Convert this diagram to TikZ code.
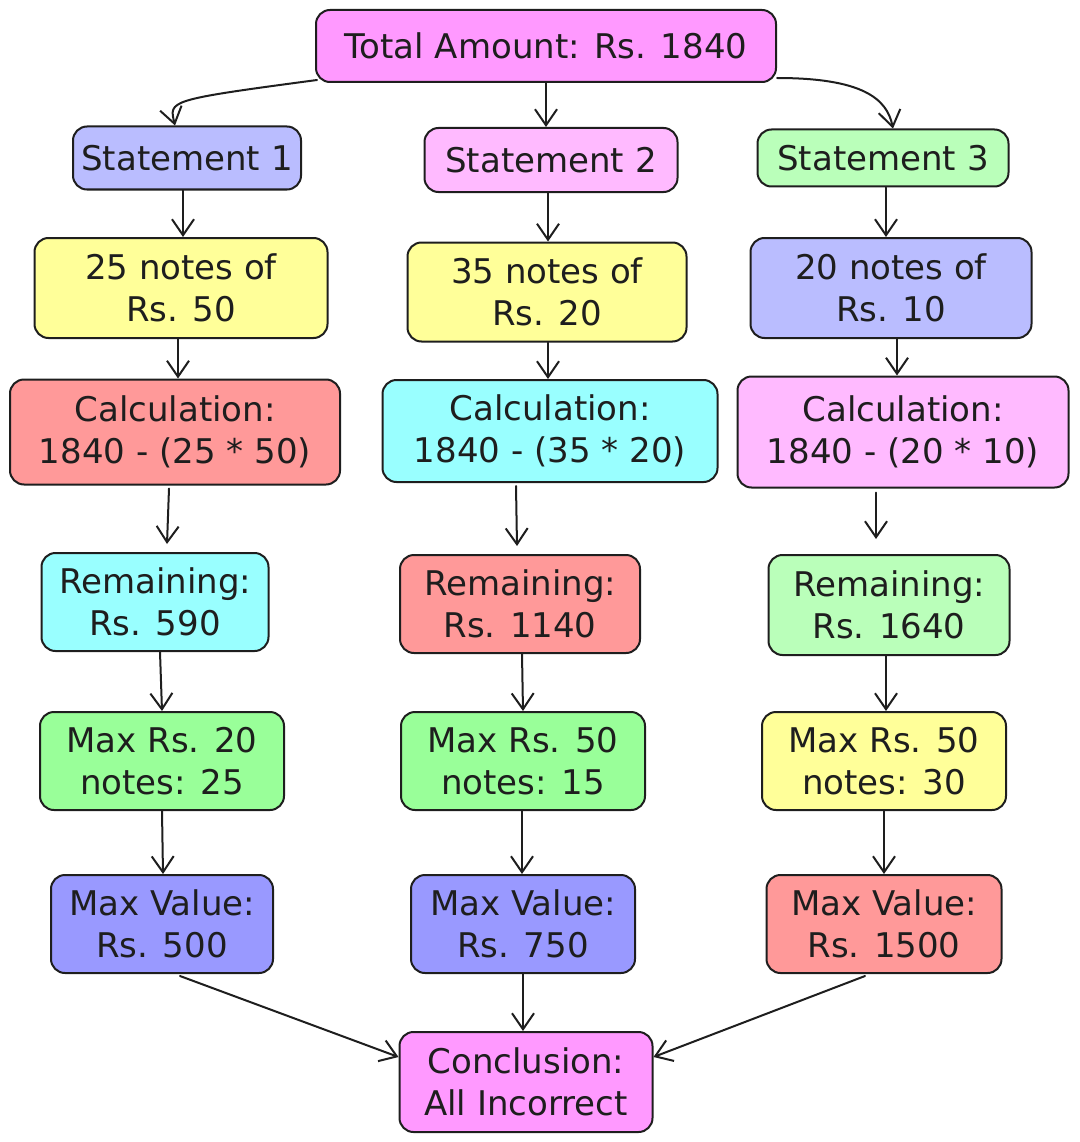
\documentclass[tikz,border=0pt]{standalone}
\usepackage{fontspec}
\setmainfont{DejaVu Sans}
\usetikzlibrary{arrows.meta}
\definecolor{ink}{HTML}{1E1E1E}
\definecolor{cpink}{RGB}{255,153,255}
\definecolor{clpink}{RGB}{255,186,255}
\definecolor{clav}{RGB}{186,189,255}
\definecolor{clgreen}{RGB}{186,255,186}
\definecolor{cyellow}{RGB}{255,255,153}
\definecolor{csalmon}{RGB}{255,153,153}
\definecolor{ccyan}{RGB}{153,255,255}
\definecolor{cgreen}{RGB}{153,255,153}
\definecolor{cblue}{RGB}{153,153,255}
\tikzset{
  box/.style={draw=ink, line width=2pt, rounded corners=14pt, align=center,
    inner sep=0pt, text=ink, font=\fontsize{34}{42}\selectfont},
  conn/.style={draw=ink, line width=2pt, line cap=round,
    -{Straight Barb[length=16pt,width=22pt,line width=2pt]}},
}
\begin{document}
\begin{tikzpicture}[x=1pt,y=-1pt]
\useasboundingbox (0,0) rectangle (1079,1142);
% top
\node[box, fill=cpink, minimum width=460pt, minimum height=72pt] (tot) at (546,46) {Total Amount: Rs. 1840};
% statements
\node[box, fill=clav, minimum width=228pt, minimum height=63pt] (s1) at (187,158) {Statement 1};
\node[box, fill=clpink, minimum width=253pt, minimum height=64pt] (s2) at (551,160) {Statement 2};
\node[box, fill=clgreen, minimum width=251pt, minimum height=57pt] (s3) at (883,158) {Statement 3};
% notes
\node[box, fill=cyellow, minimum width=293pt, minimum height=100pt] (n1) at (181,288) {25 notes of\\Rs. 50};
\node[box, fill=cyellow, minimum width=279pt, minimum height=99pt] (n2) at (547,292) {35 notes of\\Rs. 20};
\node[box, fill=clav, minimum width=281pt, minimum height=100pt] (n3) at (891,288) {20 notes of\\Rs. 10};
% calculations
\node[box, fill=csalmon, minimum width=330pt, minimum height=105pt] (c1) at (175,432) {Calculation:\\1840 - (25 * 50)};
\node[box, fill=ccyan, minimum width=335pt, minimum height=102pt] (c2) at (550,431) {Calculation:\\1840 - (35 * 20)};
\node[box, fill=clpink, minimum width=331pt, minimum height=111pt] (c3) at (903,432) {Calculation:\\1840 - (20 * 10)};
% remaining
\node[box, fill=ccyan, minimum width=227pt, minimum height=98pt] (r1) at (155,602) {Remaining:\\Rs. 590};
\node[box, fill=csalmon, minimum width=240pt, minimum height=98pt] (r2) at (520,604) {Remaining:\\Rs. 1140};
\node[box, fill=clgreen, minimum width=241pt, minimum height=100pt] (r3) at (889,605) {Remaining:\\Rs. 1640};
% max notes
\node[box, fill=cgreen, minimum width=244pt, minimum height=98pt] (m1) at (162,761) {Max Rs. 20\\notes: 25};
\node[box, fill=cgreen, minimum width=244pt, minimum height=98pt] (m2) at (523,761) {Max Rs. 50\\notes: 15};
\node[box, fill=cyellow, minimum width=244pt, minimum height=98pt] (m3) at (884,761) {Max Rs. 50\\notes: 30};
% max value
\node[box, fill=cblue, minimum width=222pt, minimum height=98pt] (v1) at (162,924) {Max Value:\\Rs. 500};
\node[box, fill=cblue, minimum width=224pt, minimum height=98pt] (v2) at (523,924) {Max Value:\\Rs. 750};
\node[box, fill=csalmon, minimum width=235pt, minimum height=98pt] (v3) at (884,924) {Max Value:\\Rs. 1500};
% conclusion
\node[box, fill=cpink, minimum width=253pt, minimum height=100pt] (cc) at (526,1082) {Conclusion:\\All Incorrect};
% connectors
\draw[conn] ([xshift=2pt,yshift=3pt]tot.south west) .. controls +(-150,20) and +(-6,-25) .. ([xshift=-12pt]s1.north);
\draw[conn] (tot.south) -- ([xshift=-5pt]s2.north);
\draw[conn] ([yshift=5pt]tot.south east) .. controls +(85,0) and +(-6,-30) .. ([xshift=10pt]s3.north);
\draw[conn] ([xshift=-4pt]s1.south) -- ([xshift=2pt]n1.north);
\draw[conn] ([xshift=-3pt]s2.south) -- ([xshift=1pt]n2.north);
\draw[conn] ([xshift=3pt]s3.south) -- ([xshift=-5pt]n3.north);
\draw[conn] ([xshift=-3pt]n1.south) -- ([xshift=3pt]c1.north);
\draw[conn] ([xshift=1pt]n2.south) -- ([xshift=-2pt]c2.north);
\draw[conn] ([xshift=6pt]n3.south) -- ([xshift=-6pt]c3.north);
\draw[conn] ([xshift=-6pt,yshift=-3pt]c1.south) -- ([xshift=12pt,yshift=8pt]r1.north);
\draw[conn] ([xshift=-34pt,yshift=-3pt]c2.south) -- ([xshift=-3pt,yshift=8pt]r2.north);
\draw[conn] ([xshift=-27pt,yshift=-4pt]c3.south) -- ([xshift=-13pt,yshift=15pt]r3.north);
\draw[conn] ([xshift=5pt]r1.south) -- (m1.north);
\draw[conn] ([xshift=2pt]r2.south) -- (m2.north);
\draw[conn] ([xshift=-3pt]r3.south) -- ([xshift=2pt]m3.north);
\draw[conn] (m1.south) -- ([xshift=1pt]v1.north);
\draw[conn] ([xshift=-1pt]m2.south) -- ([xshift=-1pt]v2.north);
\draw[conn] (m3.south) -- (v3.north);
\draw[conn] ([xshift=18pt,yshift=-2pt]v1.south) -- ([yshift=25pt]cc.west);
\draw[conn] (v2.south) -- ([xshift=-3pt]cc.north);
\draw[conn] ([xshift=-19pt,yshift=-2pt]v3.south) -- ([yshift=25pt]cc.east);
\end{tikzpicture}
\end{document}
